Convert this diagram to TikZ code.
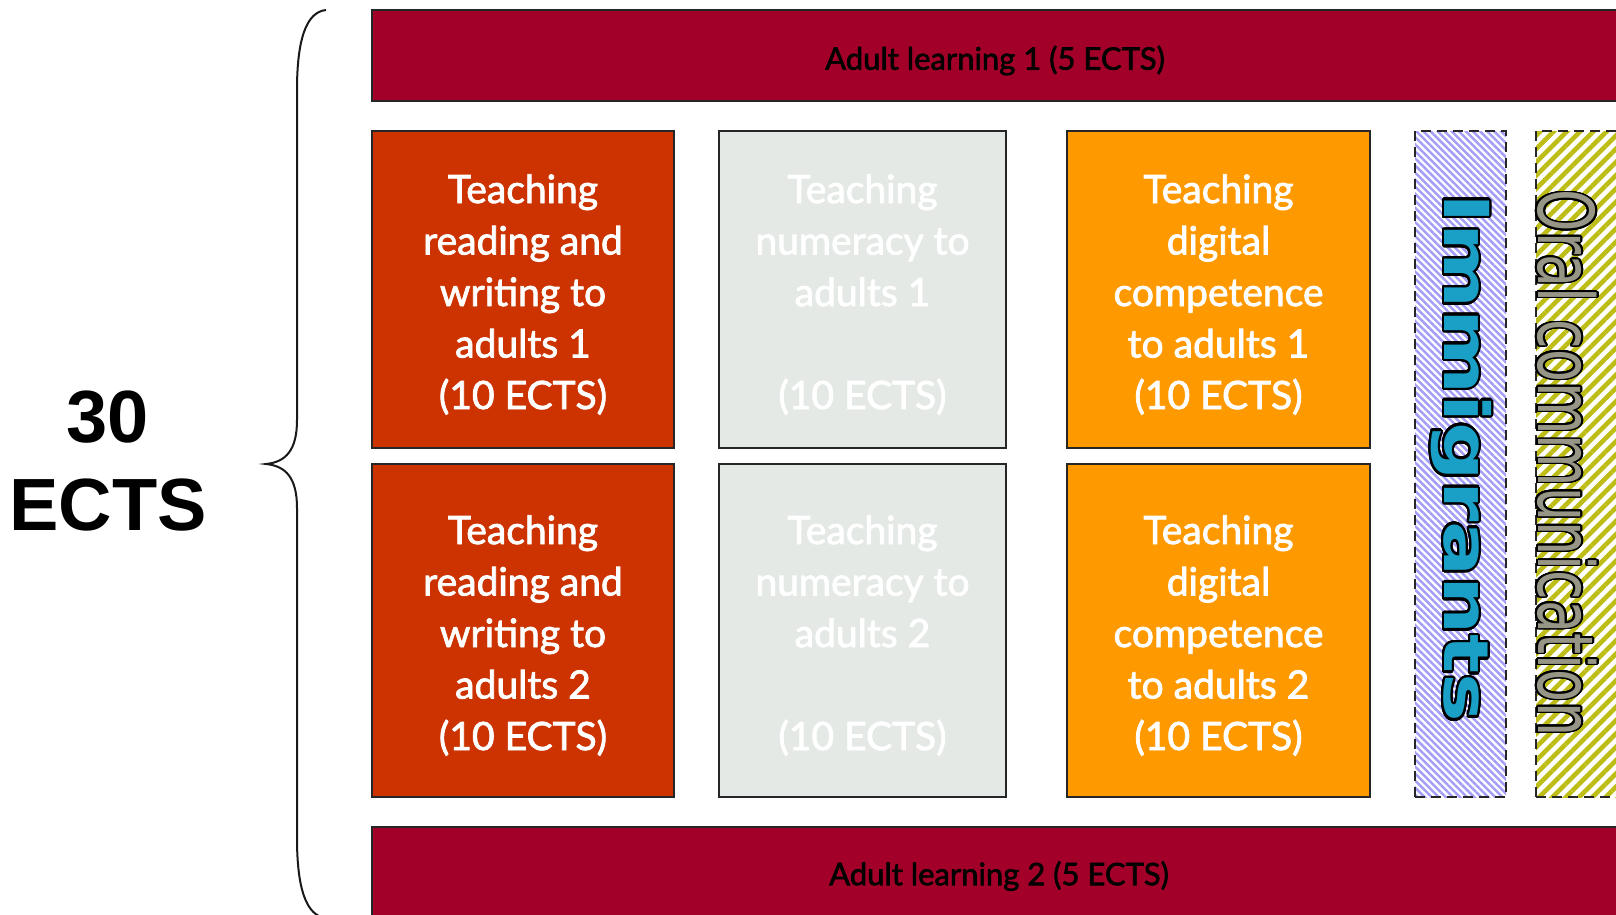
\documentclass[tikz,border=0pt]{standalone}
\usepackage{fontspec}
\usepackage{contour}
\usetikzlibrary{patterns.meta}
\setmainfont{Lato}
\newfontfamily\boxfont{Lato}[FakeBold=2]
\newfontfamily\arialfont{Liberation Sans}
\newfontfamily\dejavu{DejaVu Sans}
\contourlength{2pt}
\contournumber{32}
\definecolor{barred}{HTML}{A20029}
\definecolor{boxred}{HTML}{CC3300}
\definecolor{boxgray}{HTML}{E4E9E5}
\definecolor{boxorange}{HTML}{FF9900}
\definecolor{immstripe}{HTML}{A49EF8}
\definecolor{oralstripe}{HTML}{BDBD15}
\definecolor{immtext}{HTML}{1A9FC6}
\definecolor{oraltext}{HTML}{979686}
\tikzset{
  module/.style={rectangle, draw=black!85, line width=2pt, inner sep=0pt, align=center,
    text=white, font=\boxfont\fontsize{39}{51.5}\selectfont},
  bar/.style={rectangle, draw=black!85, line width=2pt, fill=barred, inner sep=0pt,
    text=black, font=\boxfont\fontsize{31}{36}\selectfont},
  strip/.style={rectangle, draw=black!85, line width=2pt, dash pattern=on 10pt off 6pt,
    inner sep=0pt, preaction={fill=white}},
  bigtext/.style={font=\arialfont\bfseries\fontsize{74}{88}\selectfont, anchor=base}
}
\begin{document}
\begin{tikzpicture}[x=1pt,y=-1pt]
\useasboundingbox (0,0) rectangle (1616,914);
\clip (0,0) rectangle (1616,914);
% bars
\node[bar, minimum width=1246pt, minimum height=91pt] (top) at (995,55.5) {};
\node[text=black, font=\boxfont\fontsize{31}{36}\selectfont] (toplabel) at (995,60.5) {Adult learning 1 (5 ECTS)};
\node[bar, minimum width=1246pt, minimum height=97.5pt] (bottom) at (995,875.25) {};
\node[text=black, font=\boxfont\fontsize{31}{36}\selectfont] (bottomlabel) at (999,876) {Adult learning 2 (5 ECTS)};
% modules, first row
\node[module, fill=boxred, minimum width=302pt, minimum height=317pt] (rw1) at (523,289.5) {};
\node[module, fill=boxgray, minimum width=287pt, minimum height=317pt] (num1) at (862.5,289.5) {};
\node[module, fill=boxorange, minimum width=303pt, minimum height=317pt] (dig1) at (1218.5,289.5) {};
% modules, second row
\node[module, fill=boxred, minimum width=302pt, minimum height=333pt] (rw2) at (523,630.5) {};
\node[module, fill=boxgray, minimum width=287pt, minimum height=333pt] (num2) at (862.5,630.5) {};
\node[module, fill=boxorange, minimum width=303pt, minimum height=333pt] (dig2) at (1218.5,630.5) {};
% module texts
\begin{scope}[every node/.style={module, draw=none}]
\node (rw1t) at ([yshift=-5pt]rw1.center) {Teaching\\reading and\\writing to\\adults 1\\(10 ECTS)};
\node (num1t) at ([yshift=-5pt]num1.center) {Teaching\\numeracy to\\adults 1\\[51.5pt](10 ECTS)};
\node (dig1t) at ([yshift=-5pt]dig1.center) {Teaching\\digital\\competence\\to adults 1\\(10 ECTS)};
\node (rw2t) at ([yshift=-5pt]rw2.center) {Teaching\\reading and\\writing to\\adults 2\\(10 ECTS)};
\node (num2t) at ([yshift=-5pt]num2.center) {Teaching\\numeracy to\\adults 2\\[51.5pt](10 ECTS)};
\node (dig2t) at ([yshift=-5pt]dig2.center) {Teaching\\digital\\competence\\to adults 2\\(10 ECTS)};
\end{scope}
% dashed strips
\node[strip, minimum width=91pt, minimum height=666pt,
  pattern={Lines[angle=-45,distance=5pt,line width=2.5pt]}, pattern color=immstripe] (imm) at (1460.5,464) {};
\node[strip, minimum width=91pt, minimum height=666pt,
  pattern={Lines[angle=45,distance=9.4pt,line width=4.6pt]}, pattern color=oralstripe] (oral) at (1581.5,464) {};
\node[rotate=-90, inner sep=0pt, text=immtext, font=\dejavu\bfseries\fontsize{62}{70}\selectfont]
  (immlabel) at (1460,458) {\scalebox{1.32}[1]{\contour{black}{Immigrants}}};
\node[rotate=-90, inner sep=0pt, text=oraltext, font=\dejavu\fontsize{77}{85}\selectfont]
  (orallabel) at (1566,463) {\scalebox{0.7}[1]{\contour{black}{Oral communication}}};
% brace and total
\draw[line width=2pt, black!90] (326,10) .. controls (306,12) and (297,40) .. (297,90)
  -- (297,420) .. controls (297,450) and (286,462) .. (266,464)
  .. controls (286,466) and (297,478) .. (297,508)
  -- (297,838) .. controls (297,888) and (306,916) .. (326,918);
\node[bigtext] (thirty) at (108,442) {30};
\node[bigtext] (ects) at (108,530) {ECTS};
\end{tikzpicture}
\end{document}
